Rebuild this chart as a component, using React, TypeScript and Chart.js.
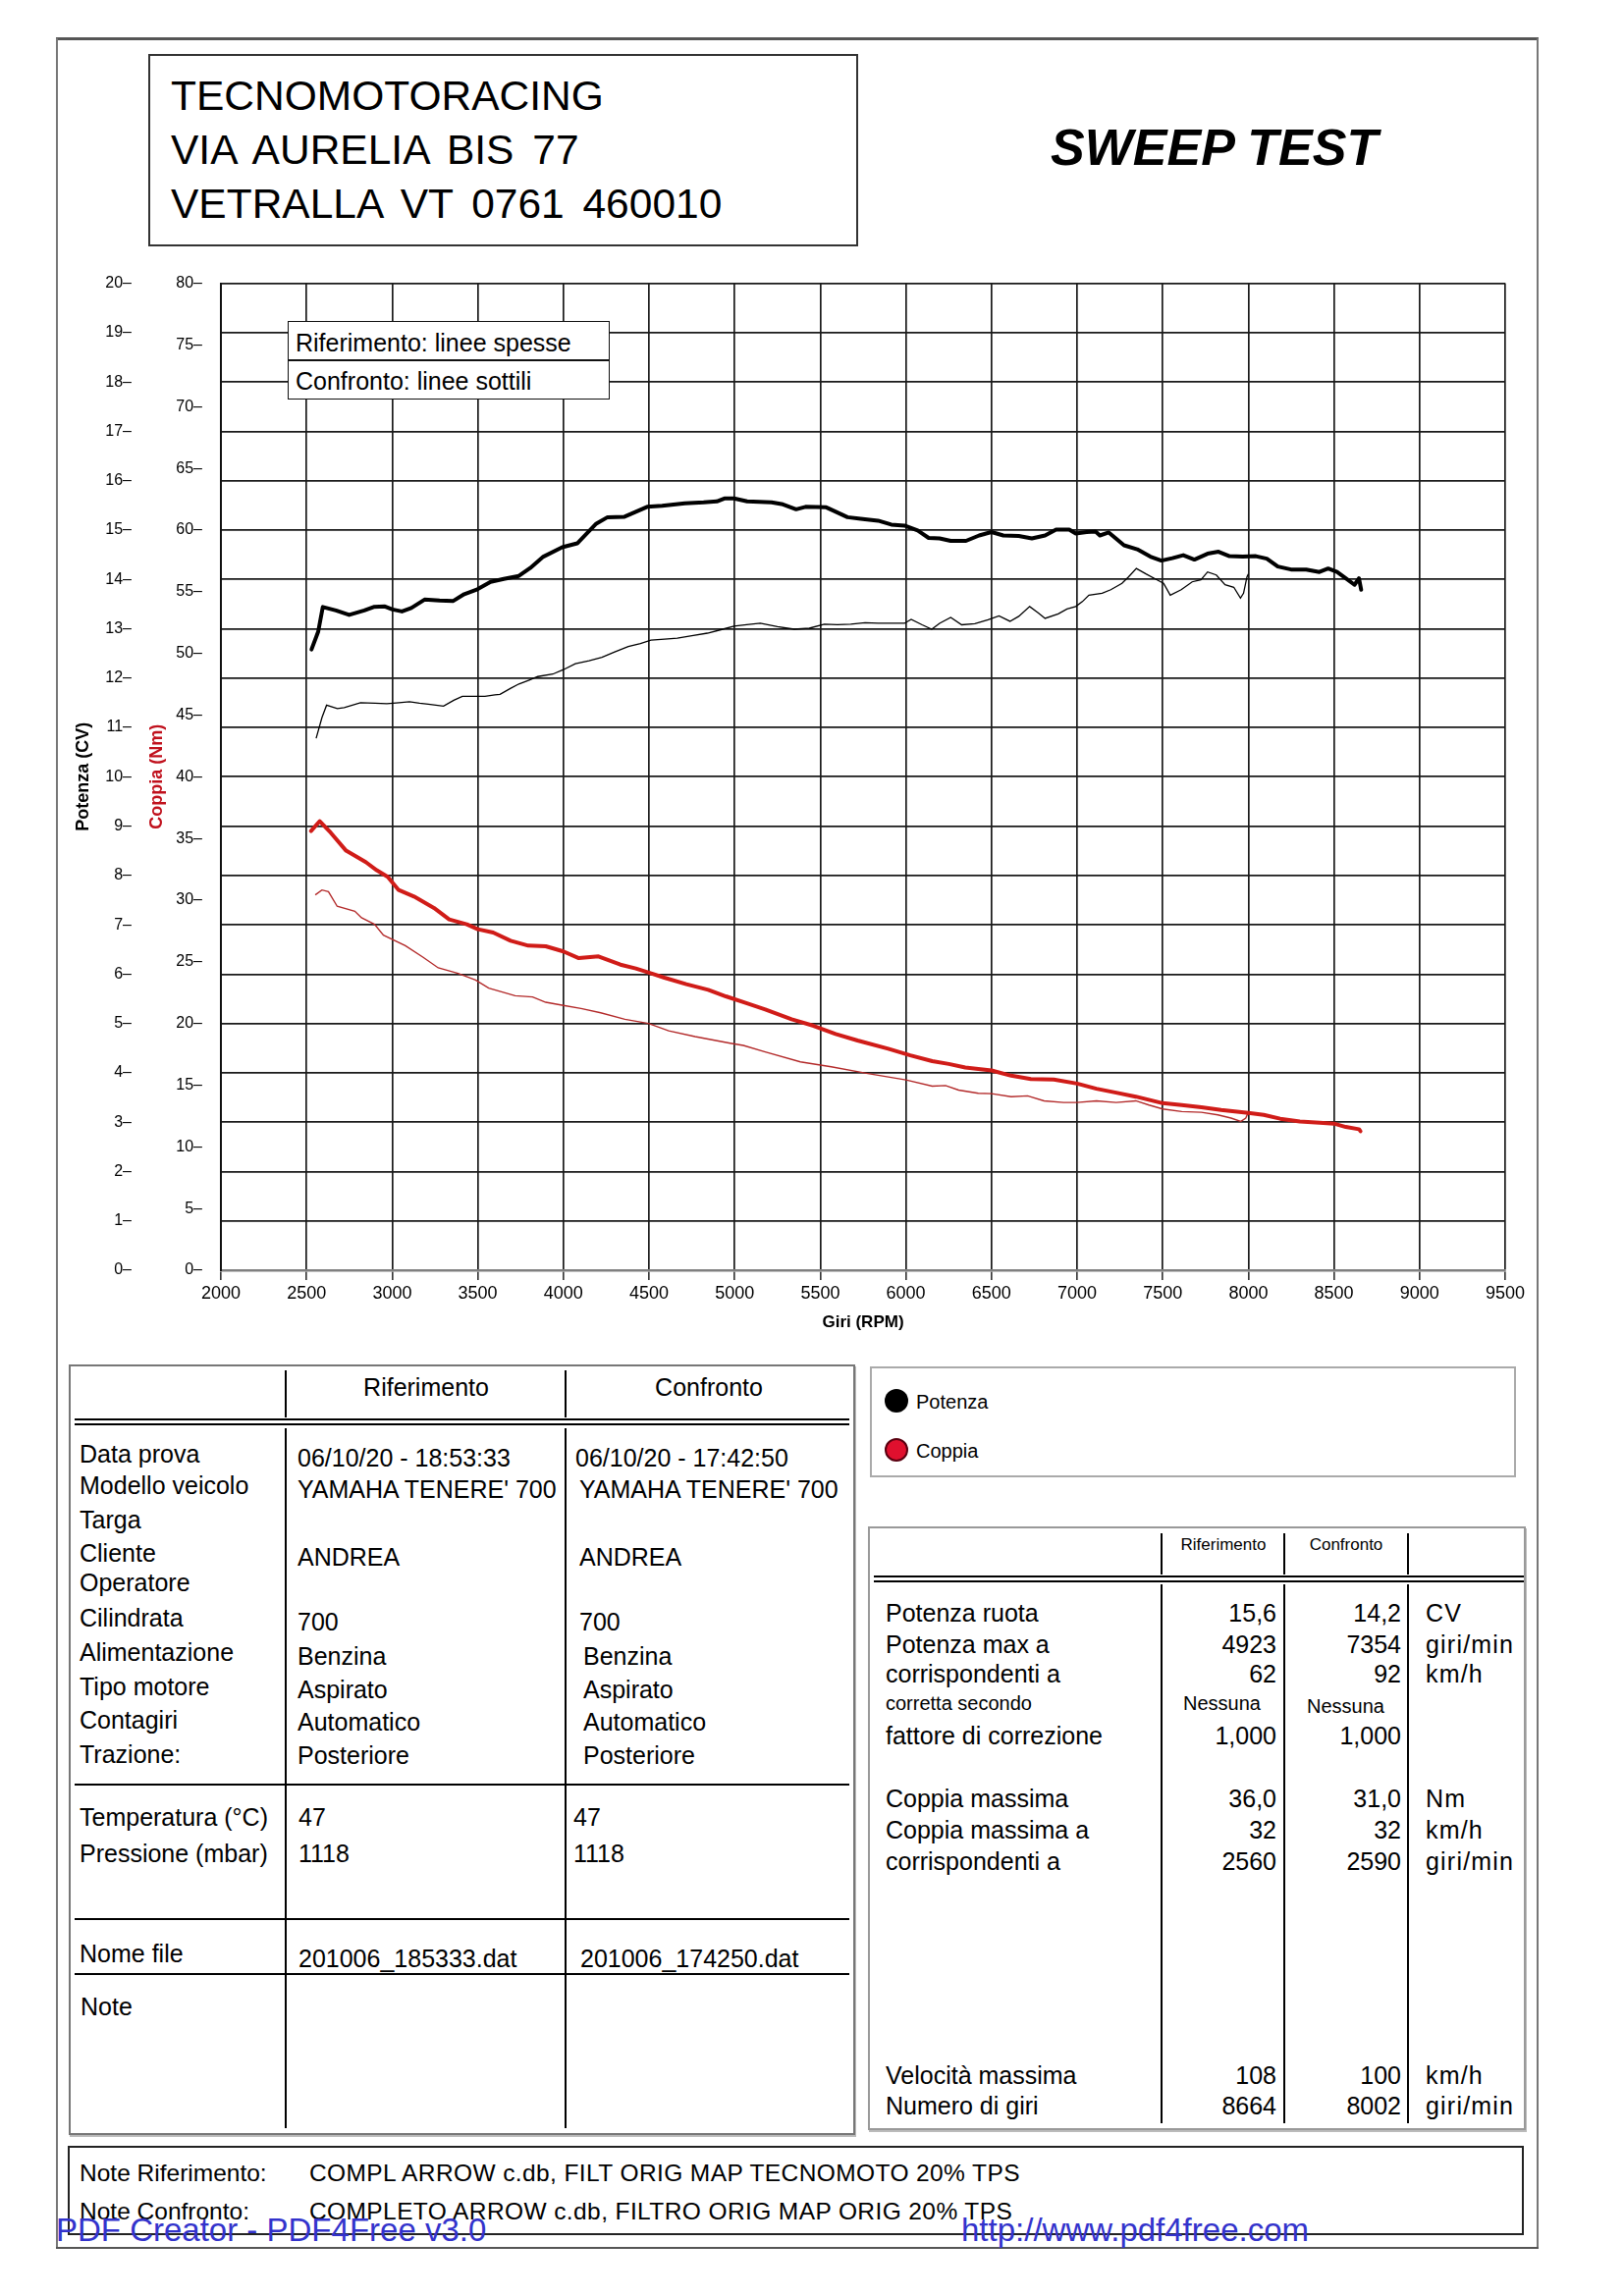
import React, { useEffect, useRef } from 'react';
import { Chart, registerables } from 'chart.js';

Chart.register(...registerables);

const FONT = '"Liberation Sans", Arial, Helvetica, sans-serif';

// ---- axes ----
const RPM_MIN = 2000;
const RPM_MAX = 9500;
const RPM_STEP = 500;
const POWER_MIN = 0;
const POWER_MAX = 20;
const POWER_STEP = 1;
const TORQUE_MIN = 0;
const TORQUE_MAX = 80;
const TORQUE_STEP = 5;

// ---- Riferimento: potenza (CV), thick black ----
const refPowerRpm = [2529, 2568, 2595, 2672, 2749, 2837, 2892, 2958, 3002, 3057, 3112, 3189, 3277, 3355, 3421, 3498, 3575, 3652, 3740, 3806, 3883, 3993, 4081, 4137, 4192, 4258, 4357, 4489, 4577, 4709, 4819, 4896, 4940, 4996, 5073, 5216, 5282, 5359, 5414, 5535, 5585, 5659, 5736, 5838, 5915, 5992, 6069, 6133, 6197, 6262, 6351, 6428, 6500, 6569, 6659, 6736, 6813, 6877, 6954, 6992, 7056, 7108, 7133, 7185, 7274, 7351, 7428, 7492, 7556, 7620, 7685, 7762, 7826, 7890, 7967, 8044, 8108, 8172, 8249, 8338, 8415, 8466, 8518, 8569, 8620, 8646, 8659];
const refPower = [12.58, 12.94, 13.44, 13.37, 13.28, 13.37, 13.44, 13.45, 13.39, 13.35, 13.42, 13.59, 13.57, 13.56, 13.70, 13.80, 13.95, 14.01, 14.07, 14.23, 14.46, 14.65, 14.73, 14.93, 15.13, 15.26, 15.27, 15.47, 15.49, 15.54, 15.56, 15.58, 15.64, 15.64, 15.58, 15.56, 15.52, 15.42, 15.47, 15.46, 15.38, 15.26, 15.23, 15.19, 15.11, 15.09, 14.99, 14.84, 14.83, 14.78, 14.78, 14.89, 14.96, 14.89, 14.88, 14.83, 14.89, 15.01, 15.01, 14.93, 14.96, 14.97, 14.89, 14.95, 14.69, 14.61, 14.46, 14.38, 14.43, 14.49, 14.40, 14.52, 14.56, 14.47, 14.46, 14.47, 14.42, 14.26, 14.20, 14.20, 14.15, 14.22, 14.15, 14.02, 13.89, 14.02, 13.79];

// ---- Confronto: potenza (CV), thin black ----
const confPowerRpm = [2556, 2590, 2617, 2680, 2720, 2815, 2900, 2969, 3040, 3101, 3160, 3211, 3300, 3360, 3410, 3480, 3542, 3600, 3630, 3690, 3740, 3800, 3850, 3938, 4000, 4070, 4150, 4225, 4300, 4379, 4450, 4511, 4590, 4665, 4750, 4841, 4920, 4996, 5070, 5150, 5250, 5348, 5436, 5524, 5600, 5678, 5762, 5838, 5992, 6031, 6095, 6151, 6197, 6262, 6326, 6403, 6480, 6544, 6608, 6659, 6723, 6774, 6813, 6890, 6941, 6992, 7031, 7069, 7146, 7197, 7262, 7300, 7346, 7402, 7467, 7505, 7544, 7608, 7672, 7723, 7762, 7813, 7864, 7915, 7954, 7972, 7992, 8000];
const confPower = [10.78, 11.20, 11.45, 11.38, 11.40, 11.50, 11.49, 11.48, 11.50, 11.52, 11.49, 11.47, 11.43, 11.55, 11.63, 11.63, 11.63, 11.66, 11.67, 11.79, 11.88, 11.96, 12.03, 12.08, 12.17, 12.29, 12.35, 12.42, 12.53, 12.64, 12.70, 12.77, 12.79, 12.81, 12.86, 12.91, 12.98, 13.05, 13.08, 13.11, 13.04, 12.99, 13.01, 13.09, 13.08, 13.09, 13.12, 13.11, 13.11, 13.19, 13.08, 12.99, 13.11, 13.23, 13.08, 13.10, 13.18, 13.26, 13.15, 13.25, 13.45, 13.32, 13.21, 13.30, 13.40, 13.45, 13.55, 13.68, 13.72, 13.79, 13.92, 14.05, 14.22, 14.11, 13.99, 13.92, 13.68, 13.79, 13.95, 13.99, 14.15, 14.09, 13.89, 13.84, 13.62, 13.72, 14.05, 14.11];

// ---- Riferimento: coppia (Nm), thick red ----
const refTorqueRpm = [2526, 2577, 2641, 2731, 2846, 2910, 2974, 3038, 3128, 3244, 3333, 3436, 3500, 3590, 3692, 3795, 3897, 4000, 4090, 4205, 4333, 4423, 4513, 4590, 4718, 4846, 4949, 5064, 5179, 5333, 5461, 5590, 5718, 5897, 6026, 6154, 6251, 6347, 6500, 6615, 6730, 6864, 7000, 7113, 7228, 7343, 7500, 7611, 7726, 7841, 8000, 8090, 8186, 8301, 8416, 8500, 8569, 8646, 8655];
const refTorque = [35.60, 36.40, 35.47, 34.01, 33.08, 32.42, 31.89, 30.82, 30.29, 29.37, 28.44, 28.04, 27.64, 27.37, 26.71, 26.31, 26.26, 25.84, 25.30, 25.44, 24.77, 24.46, 24.06, 23.71, 23.18, 22.73, 22.20, 21.67, 21.14, 20.34, 19.81, 19.15, 18.62, 17.95, 17.42, 16.95, 16.72, 16.43, 16.19, 15.77, 15.50, 15.45, 15.13, 14.71, 14.39, 14.07, 13.54, 13.39, 13.20, 12.99, 12.75, 12.59, 12.28, 12.06, 11.96, 11.88, 11.61, 11.43, 11.27];

// ---- Confronto: coppia (Nm), thin red ----
const confTorqueRpm = [2551, 2590, 2628, 2679, 2782, 2821, 2897, 2949, 3077, 3179, 3269, 3385, 3487, 3564, 3718, 3820, 3897, 4000, 4103, 4218, 4359, 4497, 4615, 4769, 4974, 5051, 5179, 5384, 5564, 5769, 6000, 6154, 6232, 6308, 6423, 6500, 6615, 6711, 6807, 6921, 7000, 7113, 7228, 7343, 7420, 7500, 7611, 7726, 7822, 7899, 7956, 7985, 8000];
const confTorque = [30.43, 30.82, 30.69, 29.50, 29.10, 28.57, 28.04, 27.16, 26.31, 25.38, 24.51, 24.06, 23.53, 22.86, 22.25, 22.15, 21.72, 21.46, 21.22, 20.87, 20.34, 20.00, 19.41, 18.94, 18.40, 18.22, 17.69, 16.89, 16.49, 15.96, 15.43, 14.92, 14.97, 14.60, 14.34, 14.31, 14.07, 14.13, 13.73, 13.60, 13.60, 13.73, 13.60, 13.73, 13.39, 13.07, 12.86, 12.80, 12.59, 12.33, 12.06, 12.33, 12.80];

// ---- texts ----
const headerLines = ['TECNOMOTORACING', 'VIA AURELIA BIS 77', 'VETRALLA VT 0761 460010'];
const leftLabels = ['Data prova', 'Modello veicolo', 'Targa', 'Cliente', 'Operatore', 'Cilindrata', 'Alimentazione', 'Tipo motore', 'Contagiri', 'Trazione:'];
const leftRefValues = ['06/10/20 - 18:53:33', "YAMAHA TENERE' 700", '', 'ANDREA', '', '700', 'Benzina', 'Aspirato', 'Automatico', 'Posteriore'];
const leftConfValues = ['06/10/20 - 17:42:50', "YAMAHA TENERE' 700", '', 'ANDREA', '', '700', 'Benzina', 'Aspirato', 'Automatico', 'Posteriore'];

const pts = (xs: number[], ys: number[]) => xs.map((x, i) => ({ x, y: ys[i] }));

function DynoChart() {
  const ref = useRef<HTMLCanvasElement | null>(null);
  useEffect(() => {
    if (!ref.current) return;
    const chart = new Chart(ref.current, {
      type: 'line',
      data: {
        datasets: [
          { label: 'Coppia rif', data: pts(refTorqueRpm, refTorque), yAxisID: 'torque', borderColor: '#d01c18', borderWidth: 4, pointRadius: 0, tension: 0, borderJoinStyle: 'round', borderCapStyle: 'round' },
          { label: 'Coppia conf', data: pts(confTorqueRpm, confTorque), yAxisID: 'torque', borderColor: '#b32a2a', borderWidth: 1.4, pointRadius: 0, tension: 0 },
          { label: 'Potenza rif', data: pts(refPowerRpm, refPower), yAxisID: 'power', borderColor: '#000', borderWidth: 4, pointRadius: 0, tension: 0, borderJoinStyle: 'round', borderCapStyle: 'round' },
          { label: 'Potenza conf', data: pts(confPowerRpm, confPower), yAxisID: 'power', borderColor: '#000', borderWidth: 1.3, pointRadius: 0, tension: 0 },
        ],
      } as any,
      options: {
        responsive: false,
        animation: false,
        devicePixelRatio: 1,
        events: [],
        layout: { padding: { top: 26, right: 27, left: 0, bottom: 0 } },
        plugins: { legend: { display: false }, tooltip: { enabled: false }, title: { display: false } },
        scales: {
          x: {
            type: 'linear', position: 'bottom', min: RPM_MIN, max: RPM_MAX,
            ticks: { stepSize: RPM_STEP, autoSkip: false, maxRotation: 0, minRotation: 0, padding: 3, color: '#000', font: { size: 18, family: FONT }, callback: (v: any) => String(v) },
            grid: { color: '#1a1a1a', lineWidth: 1.7, drawTicks: true, tickLength: 10, tickColor: '#222', tickWidth: 1.5 },
            border: { display: true, color: '#808080', width: 2.5 },
            title: { display: true, text: 'Giri (RPM)', color: '#000', font: { size: 17, weight: 'bold', family: FONT }, padding: { top: 0, bottom: 12 } },
            afterFit: (s: any) => { s.height = 76; },
          },
          power: {
            type: 'linear', position: 'left', weight: 2, min: POWER_MIN, max: POWER_MAX,
            ticks: { stepSize: POWER_STEP, autoSkip: false, padding: 6, color: '#000', font: { size: 16, family: FONT }, callback: (v: any) => `${v}–` },
            grid: { color: '#1a1a1a', lineWidth: 1.7, drawTicks: false },
            border: { display: false },
            title: { display: true, text: 'Potenza (CV)', color: '#000', font: { size: 18, weight: 'bold', family: FONT }, padding: { top: 14, bottom: 0 } },
            afterFit: (s: any) => { s.width = 80; },
          },
          torque: {
            type: 'linear', position: 'left', weight: 1, min: TORQUE_MIN, max: TORQUE_MAX,
            ticks: { stepSize: TORQUE_STEP, autoSkip: false, padding: 19, color: '#000', font: { size: 16, family: FONT }, callback: (v: any) => `${v}–` },
            grid: { display: false, drawTicks: false, drawOnChartArea: false },
            border: { display: true, color: '#111', width: 2 },
            title: { display: true, text: 'Coppia (Nm)', color: '#c0101c', font: { size: 18, weight: 'bold', family: FONT }, padding: { top: 9, bottom: 0 } },
            afterFit: (s: any) => { s.width = 85; },
          },
        },
      } as any,
    });
    return () => chart.destroy();
  }, []);
  return (
    <canvas
      ref={ref}
      width={1500}
      height={1110}
      style={{ position: 'absolute', left: 60, top: 260, width: 1500, height: 1110 }}
    />
  );
}

type TxProps = { x: number; y: number; s?: number; a?: 'l' | 'r' | 'c'; b?: boolean; i?: boolean; c?: string; ls?: number; ws?: number; children?: React.ReactNode };
const Tx = ({ x, y, s = 25, a = 'l', b, i, c = '#000', ls = 0, ws = 0, children }: TxProps) => (
  <div
    style={{
      position: 'absolute', left: x, top: y - 0.49 * s, fontSize: s, lineHeight: `${s}px`, whiteSpace: 'pre',
      fontWeight: b ? 'bold' : 'normal', fontStyle: i ? 'italic' : 'normal', color: c, letterSpacing: ls, wordSpacing: ws,
      transform: a === 'r' ? 'translateX(-100%)' : a === 'c' ? 'translateX(-50%)' : undefined,
    }}
  >
    {children}
  </div>
);

const HL = ({ x1, x2, y, w = 2, c = '#000' }: { x1: number; x2: number; y: number; w?: number; c?: string }) => (
  <div style={{ position: 'absolute', left: x1, top: y - w / 2, width: x2 - x1, height: w, background: c }} />
);
const VL = ({ x, y1, y2, w = 2, c = '#000' }: { x: number; y1: number; y2: number; w?: number; c?: string }) => (
  <div style={{ position: 'absolute', left: x - w / 2, top: y1, width: w, height: y2 - y1, background: c }} />
);
const Box = ({ x1, y1, x2, y2, w = 2, c = '#000', bg, sh }: { x1: number; y1: number; x2: number; y2: number; w?: number; c?: string; bg?: string; sh?: string }) => (
  <div style={{ position: 'absolute', left: x1, top: y1, width: x2 - x1, height: y2 - y1, border: `${w}px solid ${c}`, boxSizing: 'border-box', background: bg, boxShadow: sh }} />
);

const Unit = ({ y, children }: { y: number; children?: React.ReactNode }) => (
  <Tx x={1452} y={y} ls={1.2}>{children}</Tx>
);

export default function App() {
  const leftRowsY = [1481, 1513, 1548, 1582, 1612, 1648, 1683, 1718, 1752, 1787];
  const valRowsY = [1485, 1517, 1550, 1586, 1614, 1652, 1687, 1721, 1754, 1788];
  return (
    <div style={{ position: 'absolute', left: 0, top: 0, width: 1654, height: 2339, background: '#fff', fontFamily: FONT, color: '#000', overflow: 'hidden' }}>
      {/* page frame */}
      <HL x1={57} x2={1567} y={39} w={3} c="#555" />
      <VL x={58} y1={39} y2={2291} w={2} c="#777" />
      <VL x={1566} y1={39} y2={2291} w={2} c="#777" />
      <HL x1={57} x2={1567} y={2290} w={2} c="#555" />

      {/* header */}
      <Box x1={151} y1={55} x2={874} y2={251} w={2} c="#333" />
      {headerLines.map((t, k) => (
        <Tx key={k} x={174} y={98 + k * 55} s={42.5} ws={7}>{t}</Tx>
      ))}
      <Tx x={1070} y={149} s={52} b i>SWEEP TEST</Tx>

      {/* chart */}
      <DynoChart />
      <div style={{ position: 'absolute', left: 293, top: 327, width: 328, height: 80, background: '#fff', border: '1.5px solid #111', boxSizing: 'border-box' }} />
      <HL x1={293} x2={621} y={367} w={1.5} c="#111" />
      <Tx x={301} y={349} s={25}>Riferimento: linee spesse</Tx>
      <Tx x={301} y={388} s={25}>Confronto: linee sottili</Tx>

      {/* left table */}
      <Box x1={70} y1={1390} x2={871} y2={2175} w={2} c="#777" sh="1px 2px 0 #bbb" />
      <VL x={291} y1={1396} y2={1444} />
      <VL x={576} y1={1396} y2={1444} />
      <HL x1={76} x2={865} y={1446} w={1.6} />
      <HL x1={76} x2={865} y={1451} w={1.6} />
      <VL x={291} y1={1455} y2={2168} />
      <VL x={576} y1={1455} y2={2168} />
      <Tx x={434} y={1413} a="c">Riferimento</Tx>
      <Tx x={722} y={1413} a="c">Confronto</Tx>
      {leftLabels.map((t, k) => (
        <Tx key={'l' + k} x={81} y={leftRowsY[k]}>{t}</Tx>
      ))}
      {leftRefValues.map((t, k) => (t ? <Tx key={'r' + k} x={303} y={valRowsY[k]}>{t}</Tx> : null))}
      {leftConfValues.map((t, k) => (t ? <Tx key={'c' + k} x={k === 0 ? 586 : k < 6 ? 590 : 594} y={valRowsY[k]}>{t}</Tx> : null))}
      <HL x1={76} x2={865} y={1818} />
      <Tx x={81} y={1851}>Temperatura (°C)</Tx>
      <Tx x={81} y={1888}>Pressione (mbar)</Tx>
      <Tx x={304} y={1851}>47</Tx>
      <Tx x={304} y={1888}>1118</Tx>
      <Tx x={584} y={1851}>47</Tx>
      <Tx x={584} y={1888}>1118</Tx>
      <HL x1={76} x2={865} y={1955} />
      <Tx x={81} y={1990}>Nome file</Tx>
      <Tx x={304} y={1995}>201006_185333.dat</Tx>
      <Tx x={591} y={1995}>201006_174250.dat</Tx>
      <HL x1={76} x2={865} y={2011} />
      <Tx x={82} y={2044}>Note</Tx>

      {/* legend box */}
      <Box x1={886} y1={1392} x2={1544} y2={1505} w={2} c="#aaa" />
      <div style={{ position: 'absolute', left: 901, top: 1415, width: 24, height: 24, borderRadius: 12, background: '#000' }} />
      <div style={{ position: 'absolute', left: 901, top: 1465, width: 24, height: 24, borderRadius: 12, background: '#e0102e', border: '2px solid #5a0010', boxSizing: 'border-box' }} />
      <Tx x={933} y={1428} s={20}>Potenza</Tx>
      <Tx x={933} y={1478} s={20}>Coppia</Tx>

      {/* right table */}
      <Box x1={884} y1={1555} x2={1554} y2={2170} w={2} c="#999" sh="1px 2px 0 #bbb" />
      <VL x={1183} y1={1562} y2={1604} />
      <VL x={1308} y1={1562} y2={1604} />
      <VL x={1434} y1={1562} y2={1604} />
      <HL x1={890} x2={1552} y={1606} w={1.6} />
      <HL x1={890} x2={1552} y={1611} w={1.6} />
      <VL x={1183} y1={1614} y2={2163} />
      <VL x={1308} y1={1614} y2={2163} />
      <VL x={1434} y1={1614} y2={2163} />
      <Tx x={1246} y={1573} s={17} a="c">Riferimento</Tx>
      <Tx x={1371} y={1573} s={17} a="c">Confronto</Tx>

      <Tx x={902} y={1643}>Potenza ruota</Tx>
      <Tx x={1300} y={1643} a="r">15,6</Tx>
      <Tx x={1427} y={1643} a="r">14,2</Tx>
      <Unit y={1643}>CV</Unit>

      <Tx x={902} y={1675}>Potenza max a</Tx>
      <Tx x={1300} y={1675} a="r">4923</Tx>
      <Tx x={1427} y={1675} a="r">7354</Tx>
      <Unit y={1675}>giri/min</Unit>

      <Tx x={902} y={1705}>corrispondenti a</Tx>
      <Tx x={1300} y={1705} a="r">62</Tx>
      <Tx x={1427} y={1705} a="r">92</Tx>
      <Unit y={1705}>km/h</Unit>

      <Tx x={902} y={1735} s={20}>corretta secondo</Tx>
      <Tx x={1205} y={1735} s={20}>Nessuna</Tx>
      <Tx x={1331} y={1738} s={20}>Nessuna</Tx>

      <Tx x={902} y={1768}>fattore di correzione</Tx>
      <Tx x={1300} y={1768} a="r">1,000</Tx>
      <Tx x={1427} y={1768} a="r">1,000</Tx>

      <Tx x={902} y={1832}>Coppia massima</Tx>
      <Tx x={1300} y={1832} a="r">36,0</Tx>
      <Tx x={1427} y={1832} a="r">31,0</Tx>
      <Unit y={1832}>Nm</Unit>

      <Tx x={902} y={1864}>Coppia massima a</Tx>
      <Tx x={1300} y={1864} a="r">32</Tx>
      <Tx x={1427} y={1864} a="r">32</Tx>
      <Unit y={1864}>km/h</Unit>

      <Tx x={902} y={1896}>corrispondenti a</Tx>
      <Tx x={1300} y={1896} a="r">2560</Tx>
      <Tx x={1427} y={1896} a="r">2590</Tx>
      <Unit y={1896}>giri/min</Unit>

      <Tx x={902} y={2114}>Velocità massima</Tx>
      <Tx x={1300} y={2114} a="r">108</Tx>
      <Tx x={1427} y={2114} a="r">100</Tx>
      <Unit y={2114}>km/h</Unit>

      <Tx x={902} y={2145}>Numero di giri</Tx>
      <Tx x={1300} y={2145} a="r">8664</Tx>
      <Tx x={1427} y={2145} a="r">8002</Tx>
      <Unit y={2145}>giri/min</Unit>

      {/* notes */}
      <Box x1={69} y1={2186} x2={1552} y2={2277} w={2} c="#222" />
      <Tx x={81} y={2214} s={24.5}>Note Riferimento:</Tx>
      <Tx x={315} y={2214} s={24.5} ls={0.4}>COMPL ARROW c.db, FILT ORIG MAP TECNOMOTO 20% TPS</Tx>
      <Tx x={81} y={2253} s={24.5}>Note Confronto:</Tx>
      <Tx x={315} y={2253} s={24.5} ls={0.4}>COMPLETO ARROW c.db, FILTRO ORIG MAP ORIG 20% TPS</Tx>

      {/* watermark */}
      <Tx x={57} y={2271} s={33} c="#3333cc">PDF Creator - PDF4Free v3.0</Tx>
      <Tx x={979} y={2271} s={33} c="#3333cc">http://www.pdf4free.com</Tx>
    </div>
  );
}
